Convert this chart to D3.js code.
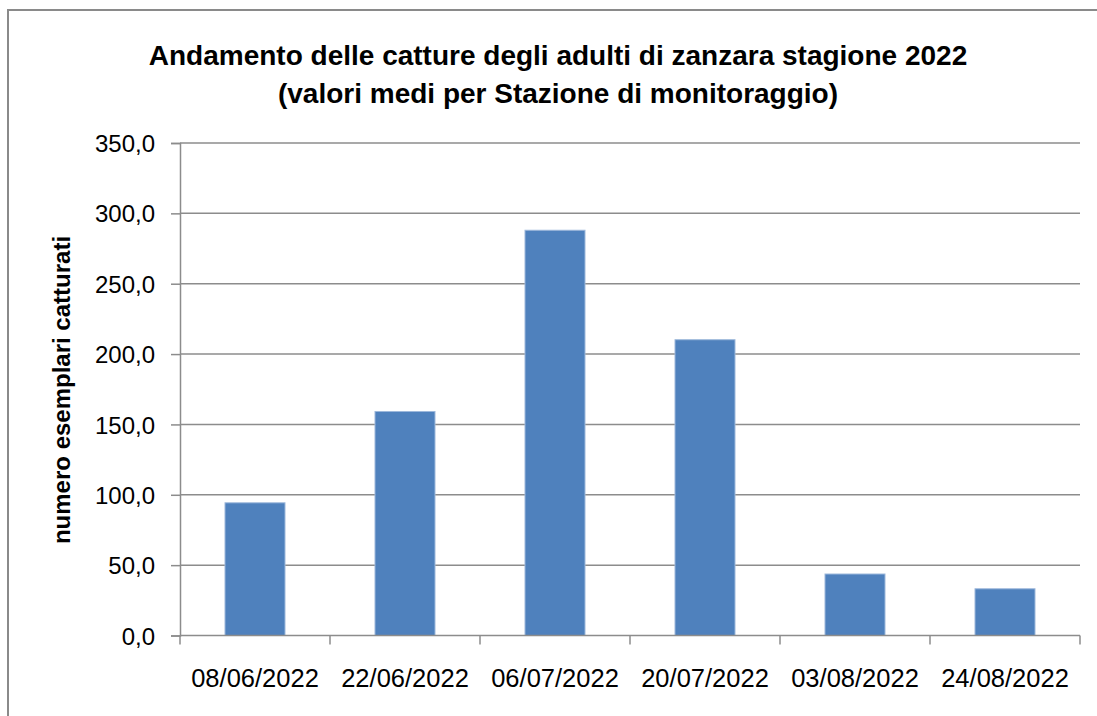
<!DOCTYPE html>
<html>
<head>
<meta charset="utf-8">
<script src="https://cdn.jsdelivr.net/npm/d3@7"></script>
<style>
  body { margin: 0; background: #fff; }
</style>
</head>
<body>
<div id="container"></div>
<script>
let w = 1097;
let h = 716;

let dates = ["08/06/2022", "22/06/2022", "06/07/2022", "20/07/2022", "03/08/2022", "24/08/2022"];
let catture = [94.3, 159.2, 288.0, 210.2, 43.7, 33.2];
let yTicks = [0, 50, 100, 150, 200, 250, 300, 350];

let viz = d3.select("#container")
  .append("svg")
    .attr("width", w)
    .attr("height", h)
    .style("background-color", "#FFFFFF");

// chart border
viz.append("rect")
  .attr("x", 8)
  .attr("y", 10)
  .attr("width", 1100)
  .attr("height", 720)
  .attr("fill", "none")
  .attr("stroke", "#8a8a8a")
  .attr("stroke-width", 2);

let plotL = 180, plotR = 1080, plotT = 143, plotB = 635.5;

let x = d3.scaleBand()
  .domain(dates)
  .range([plotL, plotR])
  .paddingInner(0.6)
  .paddingOuter(0.3);

let y = d3.scaleLinear()
  .domain([0, 350])
  .range([plotB, plotT]);

// gridlines
viz.append("g")
  .selectAll("line")
  .data(yTicks.slice(1))
  .enter()
  .append("line")
    .attr("x1", plotL)
    .attr("x2", plotR)
    .attr("y1", d => y(d))
    .attr("y2", d => y(d))
    .attr("stroke", "#8c8c8c")
    .attr("stroke-width", 1.5);

// y axis
let yAxis = d3.axisLeft(y)
  .tickValues(yTicks)
  .tickSize(9)
  .tickPadding(16)
  .tickFormat(d => d3.format(".1f")(d).replace(".", ","));

let gy = viz.append("g")
  .attr("transform", "translate(" + plotL + ",0)")
  .call(yAxis);
gy.select(".domain").attr("stroke", "#8c8c8c").attr("stroke-width", 1.5);
gy.selectAll(".tick line").attr("stroke", "#8c8c8c").attr("stroke-width", 1.5);
gy.selectAll("text")
  .attr("fill", "#000")
  .attr("dy", "0.36em")
  .style("font-family", "'Liberation Sans', Arial, sans-serif")
  .style("font-size", "24px");

// bars
viz.append("g")
  .selectAll("rect")
  .data(catture)
  .enter()
  .append("rect")
    .attr("x", (d, i) => x(dates[i]))
    .attr("y", d => y(d))
    .attr("width", x.bandwidth())
    .attr("height", d => y(0) - y(d))
    .attr("fill", "#4F81BD")
    .attr("stroke", "#9DB8DB")
    .attr("stroke-width", 1);

// x axis: ticks at category boundaries
let xb = d3.scaleLinear().domain([0, dates.length]).range([plotL, plotR]);
let gx = viz.append("g")
  .attr("transform", "translate(0," + plotB + ")");
gx.append("line")
  .attr("x1", plotL)
  .attr("x2", plotR)
  .attr("stroke", "#8c8c8c")
  .attr("stroke-width", 1.5);
gx.selectAll(".xtick")
  .data(d3.range(dates.length + 1))
  .enter()
  .append("line")
    .attr("class", "xtick")
    .attr("x1", d => xb(d))
    .attr("x2", d => xb(d))
    .attr("y1", 0)
    .attr("y2", 9)
    .attr("stroke", "#8c8c8c")
    .attr("stroke-width", 1.5);
gx.selectAll("text")
  .data(dates)
  .enter()
  .append("text")
    .attr("x", d => x(d) + x.bandwidth() / 2)
    .attr("y", 51)
    .attr("text-anchor", "middle")
    .attr("fill", "#000")
    .style("font-family", "'Liberation Sans', Arial, sans-serif")
    .style("font-size", "25.5px")
    .text(d => d);

// title
let title = ["Andamento delle catture degli adulti di zanzara stagione 2022",
             "(valori medi per Stazione di monitoraggio)"];
viz.selectAll(".title")
  .data(title)
  .enter()
  .append("text")
    .attr("class", "title")
    .attr("x", 558)
    .attr("y", (d, i) => 65 + i * 38)
    .attr("text-anchor", "middle")
    .attr("fill", "#000")
    .style("font-family", "'Liberation Sans', Arial, sans-serif")
    .style("font-weight", "bold")
    .style("font-size", "28px")
    .text(d => d);

// y axis title
viz.append("text")
  .attr("transform", "translate(70,390) rotate(-90)")
  .attr("text-anchor", "middle")
  .attr("fill", "#000")
  .style("font-family", "'Liberation Sans', Arial, sans-serif")
  .style("font-weight", "bold")
  .style("font-size", "24px")
  .text("numero esemplari catturati");
</script>
</body>
</html>
